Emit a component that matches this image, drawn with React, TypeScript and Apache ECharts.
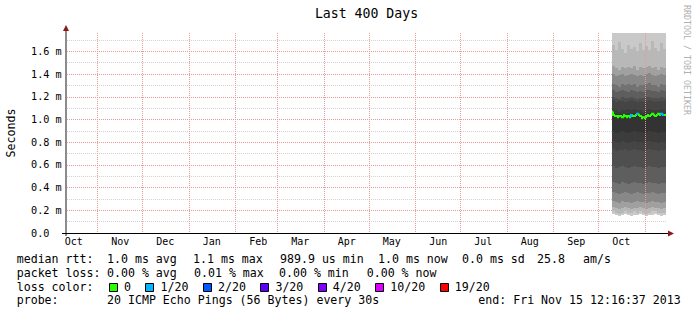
import React, { useEffect, useRef } from 'react';
import * as echarts from 'echarts';

const FONT = 'DejaVu Sans Mono';
const DAY = 86400000;
const START = Date.UTC(2012, 9, 11, 12, 16, 37);
const END = Date.UTC(2013, 10, 15, 12, 16, 37);
const Y_MAX = 1.762;

// month boundaries (vertical grid) and mid-month label positions
const monthStarts = ['2012-11-01', '2012-12-01', '2013-01-01', '2013-02-01', '2013-03-01', '2013-04-01', '2013-05-01', '2013-06-01', '2013-07-01', '2013-08-01', '2013-09-01', '2013-10-01', '2013-11-01'];
const monthLabelDates = ['2012-10-16', '2012-11-16', '2012-12-16', '2013-01-16', '2013-02-16', '2013-03-16', '2013-04-16', '2013-05-16', '2013-06-16', '2013-07-16', '2013-08-16', '2013-09-16', '2013-10-16'];
const monthNames = ['Oct', 'Nov', 'Dec', 'Jan', 'Feb', 'Mar', 'Apr', 'May', 'Jun', 'Jul', 'Aug', 'Sep', 'Oct'];

const yTicks = [0, 0.2, 0.4, 0.6, 0.8, 1.0, 1.2, 1.4, 1.6];
const yMinorTicks = [0.1, 0.3, 0.5, 0.7, 0.9, 1.1, 1.3, 1.5, 1.7];

// smoke: 20 sorted ping rtts (ms) per 2-day step
const smokeDates = ['2013-10-09T18:00:00Z', '2013-10-11T18:00:00Z', '2013-10-13T18:00:00Z', '2013-10-15T18:00:00Z', '2013-10-17T18:00:00Z', '2013-10-19T18:00:00Z', '2013-10-21T18:00:00Z', '2013-10-23T18:00:00Z', '2013-10-25T18:00:00Z', '2013-10-27T18:00:00Z', '2013-10-29T18:00:00Z', '2013-10-31T18:00:00Z', '2013-11-02T18:00:00Z', '2013-11-04T18:00:00Z', '2013-11-06T18:00:00Z', '2013-11-08T18:00:00Z', '2013-11-10T18:00:00Z', '2013-11-12T18:00:00Z', '2013-11-14T18:00:00Z'];
const smokeRows = [
  [0.17, 0.19, 0.23, 0.28, 0.36, 0.45, 0.59, 0.74, 0.81, 0.90, 1.06, 1.09, 1.17, 1.20, 1.26, 1.31, 1.40, 1.47, 1.66, 1.90],
  [0.16, 0.18, 0.22, 0.27, 0.35, 0.44, 0.57, 0.72, 0.80, 0.88, 1.05, 1.08, 1.15, 1.19, 1.24, 1.30, 1.38, 1.45, 1.61, 1.85],
  [0.15, 0.17, 0.21, 0.26, 0.34, 0.43, 0.58, 0.73, 0.79, 0.89, 1.05, 1.07, 1.16, 1.18, 1.25, 1.29, 1.39, 1.44, 1.68, 1.95],
  [0.16, 0.18, 0.22, 0.28, 0.35, 0.45, 0.59, 0.73, 0.81, 0.90, 1.05, 1.08, 1.16, 1.20, 1.26, 1.31, 1.40, 1.46, 1.62, 1.88],
  [0.17, 0.19, 0.23, 0.27, 0.36, 0.44, 0.58, 0.74, 0.80, 0.89, 1.04, 1.08, 1.15, 1.19, 1.25, 1.30, 1.38, 1.45, 1.59, 1.82],
  [0.16, 0.18, 0.22, 0.27, 0.35, 0.43, 0.57, 0.72, 0.79, 0.88, 1.05, 1.09, 1.16, 1.19, 1.24, 1.31, 1.39, 1.46, 1.66, 1.92],
  [0.15, 0.18, 0.21, 0.26, 0.34, 0.44, 0.58, 0.73, 0.80, 0.89, 1.05, 1.08, 1.17, 1.20, 1.26, 1.30, 1.40, 1.45, 1.62, 1.86],
  [0.16, 0.19, 0.22, 0.27, 0.35, 0.45, 0.59, 0.74, 0.81, 0.90, 1.06, 1.09, 1.16, 1.19, 1.25, 1.31, 1.39, 1.47, 1.64, 1.90],
  [0.16, 0.18, 0.22, 0.28, 0.36, 0.44, 0.58, 0.73, 0.80, 0.89, 1.05, 1.08, 1.15, 1.18, 1.24, 1.29, 1.38, 1.44, 1.60, 1.84],
  [0.17, 0.19, 0.23, 0.27, 0.35, 0.44, 0.58, 0.73, 0.80, 0.89, 1.05, 1.08, 1.16, 1.19, 1.25, 1.30, 1.39, 1.46, 1.67, 1.93],
  [0.16, 0.18, 0.22, 0.27, 0.34, 0.43, 0.57, 0.72, 0.79, 0.88, 1.04, 1.07, 1.15, 1.19, 1.24, 1.30, 1.38, 1.45, 1.61, 1.87],
  [0.15, 0.17, 0.21, 0.26, 0.35, 0.44, 0.58, 0.73, 0.80, 0.89, 1.05, 1.08, 1.16, 1.20, 1.26, 1.31, 1.40, 1.46, 1.65, 1.91],
  [0.16, 0.18, 0.22, 0.27, 0.35, 0.45, 0.59, 0.74, 0.81, 0.90, 1.06, 1.09, 1.17, 1.20, 1.26, 1.32, 1.41, 1.47, 1.61, 1.85],
  [0.16, 0.19, 0.23, 0.28, 0.36, 0.44, 0.58, 0.73, 0.80, 0.89, 1.05, 1.08, 1.16, 1.19, 1.25, 1.30, 1.39, 1.45, 1.69, 1.96],
  [0.17, 0.19, 0.22, 0.27, 0.35, 0.44, 0.58, 0.73, 0.80, 0.89, 1.05, 1.08, 1.15, 1.19, 1.25, 1.30, 1.38, 1.46, 1.63, 1.88],
  [0.16, 0.18, 0.22, 0.27, 0.34, 0.43, 0.57, 0.72, 0.79, 0.88, 1.05, 1.08, 1.16, 1.19, 1.24, 1.29, 1.39, 1.44, 1.60, 1.83],
  [0.15, 0.18, 0.21, 0.26, 0.35, 0.44, 0.58, 0.73, 0.80, 0.89, 1.06, 1.09, 1.16, 1.20, 1.26, 1.31, 1.40, 1.46, 1.67, 1.92],
  [0.16, 0.18, 0.22, 0.27, 0.35, 0.44, 0.58, 0.73, 0.80, 0.89, 1.05, 1.08, 1.16, 1.19, 1.25, 1.30, 1.39, 1.45, 1.62, 1.87],
];
const bandColors = ['#c9c9c9', '#b8b8b8', '#a0a0a0', '#888888', '#727272', '#5e5e5e', '#4f4f4f', '#454545', '#3c3c3c', '#333333'];

// median rtt (ms) and loss count per day
const medianStart = '2013-10-09T18:00:00Z';
const medianVals = [1.07, 1.04, 1.03, 1.03, 1.02, 1.03, 1.03, 1.02, 1.04, 1.03, 1.02, 1.03, 1.02, 1.04, 1.03, 1.03, 1.04, 1.05, 1.04, 1.03, 1.01, 1.02, 1.01, 1.03, 1.04, 1.03, 1.04, 1.05, 1.04, 1.03, 1.04, 1.05, 1.04, 1.05, 1.04, 1.04];
const lossVals = [0, 0, 0, 0, 0, 0, 0, 0, 0, 0, 0, 0, 0, 1, 0, 0, 0, 1, 0, 0, 0, 0, 0, 0, 0, 0, 0, 0, 0, 0, 0, 0, 0, 1, 1, 0];

const lossLabels = ['0', '1/20', '2/20', '3/20', '4/20', '10/20', '19/20'];
const lossCounts = [0, 1, 2, 3, 4, 10, 19];
const lossColors = ['#26ff00', '#00b8ff', '#0059ff', '#5e00ff', '#7e00ff', '#dd00ff', '#ff0000'];

const title = 'Last 400 Days';
const yName = 'Seconds';
const credit = 'RRDTOOL / TOBI OETIKER';
const legendLine1: [string, number][] = [['median rtt:', 16.7], ['1.0 ms avg', 107], ['1.1 ms max', 193], ['989.9 us min', 280], ['1.0 ms now', 378], ['0.0 ms sd', 462], ['25.8', 537], ['am/s', 583]];
const legendLine2: [string, number][] = [['packet loss:', 16.7], ['0.00 % avg', 107], ['0.01 % max', 194], ['0.00 % min', 279], ['0.00 % now', 366.7]];
const legendLine3Label = 'loss color:';
const legendLine4: [string, number][] = [['probe:', 16.7], ['20 ICMP Echo Pings (56 Bytes) every 30s', 107], ['end: Fri Nov 15 12:16:37 2013', 478.3]];

function lossColor(l: number) {
  let idx = 0;
  for (let i = 0; i < lossCounts.length; i++) if (l >= lossCounts[i]) idx = i;
  return lossColors[idx];
}

export default function App() {
  const ref = useRef<HTMLDivElement>(null);
  useEffect(() => {
    const chart = echarts.init(ref.current!, null, { renderer: 'svg' });
    const monthStartTs = monthStarts.map((d) => Date.parse(d + 'T00:00:00Z'));
    const monthLabelTs = monthLabelDates.map((d) => Date.parse(d + 'T00:00:00Z'));
    const smokeTs = smokeDates.map((d) => Date.parse(d));
    const smokeData = smokeRows.map((row, i) => [smokeTs[i], smokeTs[i + 1], ...row]);
    const m0 = Date.parse(medianStart);
    const medianData = medianVals.map((v, i) => [m0 + i * DAY, m0 + (i + 1) * DAY, v, lossVals[i], i > 0 ? medianVals[i - 1] : v]);

    const textStyleBase = { fontFamily: FONT, fontSize: 11.6, fill: '#000' };
    const graphic: any[] = [];
    graphic.push({ type: 'text', x: 366.5, y: 13.7, style: { text: title, fontFamily: FONT, fontSize: 13.2, fill: '#000', align: 'center', verticalAlign: 'middle' } });
    graphic.push({ type: 'text', x: 11, y: 133, rotation: Math.PI / 2, style: { text: yName, ...textStyleBase, align: 'center', verticalAlign: 'middle' } });
    graphic.push({ type: 'text', x: 687, y: 60, rotation: -Math.PI / 2, style: { text: credit, fontFamily: FONT, fontSize: 8.3, fill: '#b0b0b0', align: 'center', verticalAlign: 'middle' } });
    // axes
    graphic.push({ type: 'line', z: 20, shape: { x1: 66, y1: 236, x2: 66, y2: 30 }, style: { stroke: '#8c8c8c', lineWidth: 2 } });
    graphic.push({ type: 'polygon', z: 20, shape: { points: [[63, 31], [66, 25], [69, 31]] }, style: { fill: '#8b1a1a' } });
    graphic.push({ type: 'line', z: 20, shape: { x1: 62, y1: 233.5, x2: 669, y2: 233.5 }, style: { stroke: '#000', lineWidth: 1 } });
    graphic.push({ type: 'polygon', z: 20, shape: { points: [[668, 230.5], [674, 233.5], [668, 236.5]] }, style: { fill: '#8b1a1a' } });
    // legend
    const lineYs = [259.3, 272.7, 286.7, 300.3];
    const addSegs = (segs: [string, number][], y: number) => segs.forEach(([t, x]) => graphic.push({ type: 'text', x, y, style: { text: t, ...textStyleBase, align: 'left', verticalAlign: 'middle' } }));
    addSegs(legendLine1, lineYs[0]);
    addSegs(legendLine2, lineYs[1]);
    graphic.push({ type: 'text', x: 16.7, y: lineYs[2], style: { text: legendLine3Label, ...textStyleBase, align: 'left', verticalAlign: 'middle' } });
    let bx = 109;
    lossLabels.forEach((lab, i) => {
      graphic.push({ type: 'rect', shape: { x: Math.round(bx) + 0.5, y: 283.5, width: 8, height: 8 }, style: { fill: lossColors[i], stroke: '#000', lineWidth: 1 } });
      graphic.push({ type: 'text', x: bx + 15, y: lineYs[2], style: { text: lab, ...textStyleBase, align: 'left', verticalAlign: 'middle' } });
      bx = bx + 15 + lab.length * 6.99 + 14.5;
    });
    addSegs(legendLine4, lineYs[3]);

    const option: any = {
      animation: false,
      backgroundColor: '#ffffff',
      grid: { left: 67, right: 30, top: 33, bottom: 82, containLabel: false },
      xAxis: {
        type: 'value', min: START, max: END, z: 5,
        axisLine: { show: false },
        axisTick: { show: false, customValues: monthStartTs },
        axisLabel: {
          customValues: monthLabelTs,
          formatter: (v: number) => {
            const i = monthLabelTs.findIndex((t) => Math.abs(t - v) < 1000);
            return i >= 0 ? monthNames[i] : '';
          },
          fontFamily: FONT, fontSize: 10, color: '#000', margin: 3,
        },
        splitLine: { show: true, lineStyle: { color: '#e79a9a', width: 1, type: [1, 1] } },
      },
      yAxis: [
        {
          type: 'value', min: 0, max: Y_MAX,
          axisLine: { show: false },
          axisTick: { show: false, customValues: yTicks },
          axisLabel: {
            customValues: yTicks,
            formatter: (v: number) => (v === 0 ? '0.0' : v.toFixed(1) + ' m'),
            align: 'left', margin: 36, fontFamily: FONT, fontSize: 10.2, color: '#000',
          },
          splitLine: { show: true, lineStyle: { color: '#e79a9a', width: 1, type: [1, 1] } },
        },
        {
          type: 'value', min: 0, max: Y_MAX,
          axisLine: { show: false },
          axisTick: { show: false, customValues: yMinorTicks },
          axisLabel: { show: false },
          splitLine: { show: true, lineStyle: { color: '#d2d2d2', width: 1, type: [1, 1] } },
        },
      ],
      series: [
        {
          type: 'custom', name: 'smoke', silent: true, yAxisIndex: 0,
          data: smokeData,
          encode: { x: [0, 1], y: [2] },
          renderItem: (params: any, api: any) => {
            const t0 = api.value(0), t1 = api.value(1);
            const top = api.coord([t0, Y_MAX])[1];
            const bottom = api.coord([t0, 0])[1];
            const children: any[] = [];
            for (let b = 0; b < 10; b++) {
              const lo = api.value(2 + b), hi = api.value(2 + 19 - b);
              const p0 = api.coord([t0, lo]);
              const p1 = api.coord([t1, hi]);
              const x0 = Math.round(p0[0]), x1 = Math.round(p1[0]);
              const yb = Math.round(Math.min(p0[1], bottom));
              const yt = Math.round(Math.max(p1[1], top));
              children.push({ type: 'rect', shape: { x: x0, y: yt, width: x1 - x0, height: yb - yt }, style: { fill: bandColors[b] } });
            }
            return { type: 'group', children };
          },
        },
        {
          type: 'custom', name: 'median', silent: true, yAxisIndex: 0,
          data: medianData,
          encode: { x: [0, 1], y: [2] },
          renderItem: (params: any, api: any) => {
            const t0 = api.value(0), t1 = api.value(1), m = api.value(2), l = api.value(3), prev = api.value(4);
            const a = api.coord([t0, m]);
            const b = api.coord([t1, m]);
            const p = api.coord([t0, prev]);
            const c = lossColor(l);
            return {
              type: 'polyline',
              shape: { points: [[Math.round(p[0]), p[1]], [Math.round(a[0]), a[1]], [Math.round(b[0]), b[1]]] },
              style: { stroke: c, lineWidth: 2, fill: 'none' },
            };
          },
        },
      ],
      graphic,
    };
    chart.setOption(option);
    return () => chart.dispose();
  }, []);
  return <div ref={ref} style={{ position: 'fixed', left: 0, top: 0, width: 697, height: 315, background: '#fff' }} />;
}
